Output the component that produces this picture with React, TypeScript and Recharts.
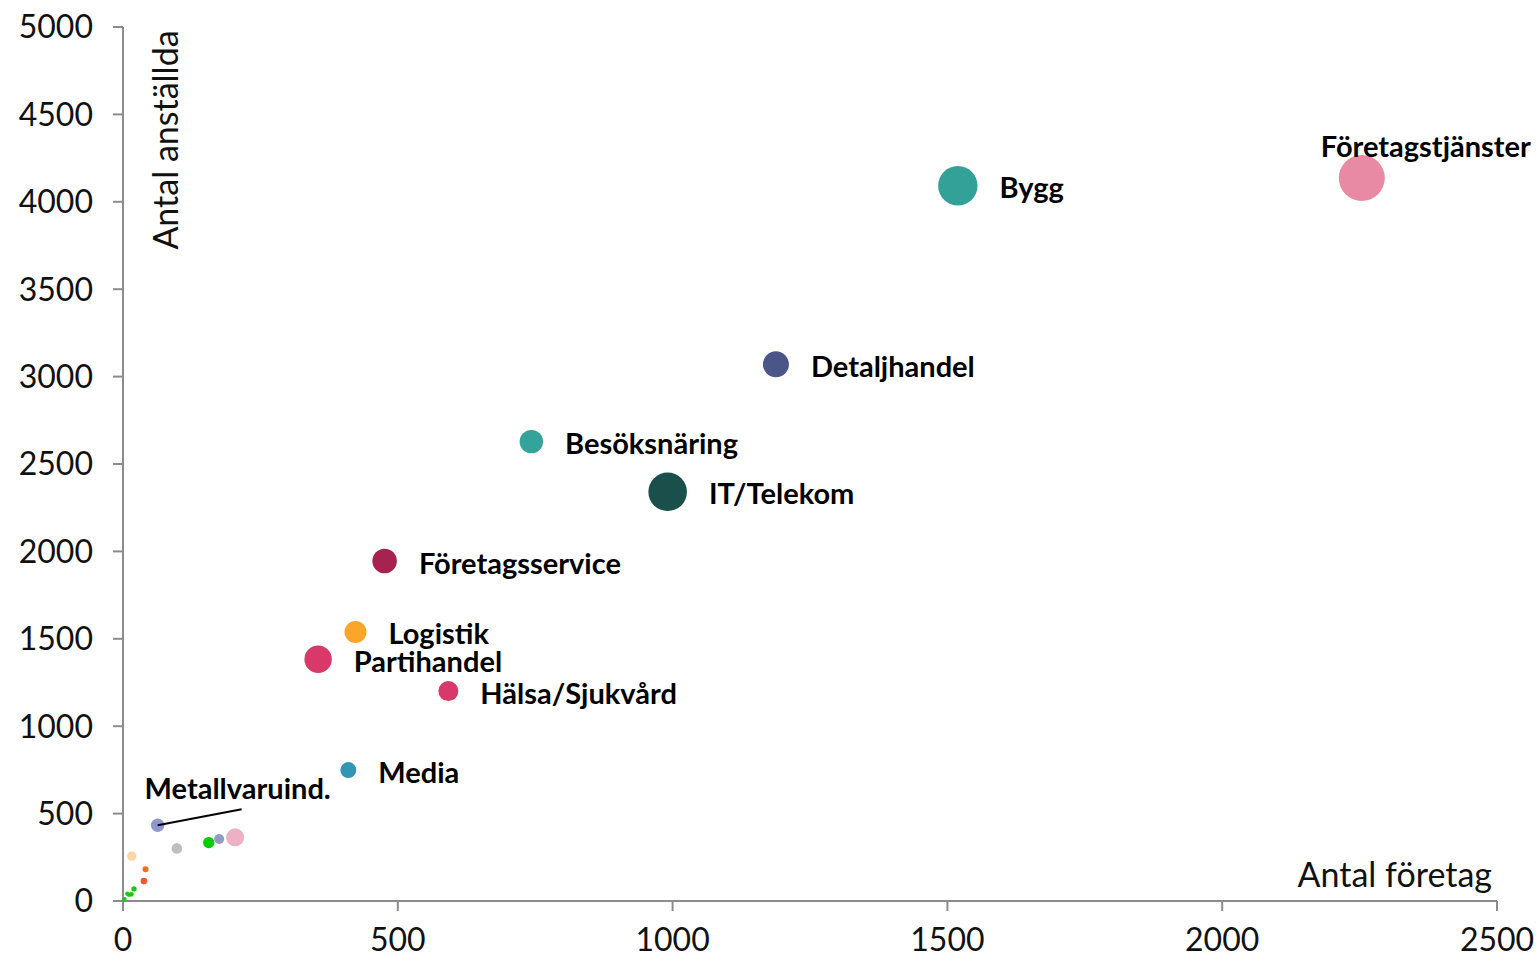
import { ScatterChart, Scatter, XAxis, YAxis, ZAxis, Label } from 'recharts';

// Branscher (tomma namn = små bubblor utan etikett)
const branscher = [
  'Företagstjänster', 'Bygg', 'Detaljhandel', 'Besöksnäring', 'IT/Telekom',
  'Företagsservice', 'Logistik', 'Partihandel', 'Hälsa/Sjukvård', 'Media',
  'Metallvaruind.', '', '', '', '', '', '', '', '', '', '', '', '', '',
];
const antalForetag = [
  2254, 1519, 1188, 743, 991,
  476, 423, 355, 592, 410,
  63, 98, 156, 175, 204, 16, 41, 38, 20, 15, 8, 3, 1, 11,
];
const antalAnstallda = [
  4136, 4092, 3070, 2628, 2341,
  1945, 1539, 1383, 1201, 749,
  433, 301, 334, 355, 364, 257, 181, 114, 69, 38, 42, 12, 3, 33,
];
const storlek = [
  529, 388, 169, 137, 372,
  151, 121, 188, 100, 64,
  45, 28, 32, 25, 81, 22, 9, 11, 7, 6, 5, 4, 3, 3,
];
const farger = [
  '#E88AA3', '#33A197', '#4A5588', '#35A39A', '#1B4F4B',
  '#A6234F', '#FBA529', '#D9386A', '#D9386A', '#3195B3',
  '#8E98CC', '#BFBFBF', '#00CC00', '#939BC4', '#EEB0C4', '#FDD5A6', '#EB7021', '#F4582D',
  '#19C819', '#19C819', '#19C819', '#19C819', '#19C819', '#19C819',
];

const xTicks = [0, 500, 1000, 1500, 2000, 2500];
const yTicks = [0, 500, 1000, 1500, 2000, 2500, 3000, 3500, 4000, 4500, 5000];

const data = branscher.map((namn, i) => ({
  namn,
  x: antalForetag[i],
  y: antalAnstallda[i],
  z: storlek[i],
  farg: farger[i],
}));

const FONT = 'Lato, "Open Sans", sans-serif';

const labelStyle = {
  fontFamily: FONT,
  fontWeight: 700,
  fontSize: 29,
  fill: '#000',
};

const Bubbla = (props: any) => {
  const { cx, cy, width, payload } = props;
  const r = width / 2;
  let etikett = null;
  if (payload.namn === 'Företagstjänster') {
    etikett = (
      <text x={cx - 41} y={cy - 33} dominantBaseline="central" style={labelStyle}>
        {payload.namn}
      </text>
    );
  } else if (payload.namn === 'Metallvaruind.') {
    etikett = (
      <g>
        <line x1={cx} y1={cy} x2={cx + 84} y2={cy - 16} stroke="#000" strokeWidth={2} />
        <text x={cx - 13} y={cy - 38} dominantBaseline="central" style={labelStyle}>
          {payload.namn}
        </text>
      </g>
    );
  } else if (payload.namn) {
    etikett = (
      <text x={cx + r + 22} y={cy + 1} dominantBaseline="central" style={labelStyle}>
        {payload.namn}
      </text>
    );
  }
  return (
    <g>
      <circle cx={cx} cy={cy} r={r} fill={payload.farg} />
      {etikett}
    </g>
  );
};

const tickStyle = { fill: '#111', fontSize: 32, fontFamily: FONT };

export default function App() {
  return (
    <div style={{ position: 'absolute', left: 0, top: 0, width: 1540, height: 961, background: '#fff' }}>
      <ScatterChart width={1540} height={961} margin={{ top: 27, right: 43, bottom: 0, left: 0 }}>
        <XAxis
          type="number"
          dataKey="x"
          domain={[0, 2500]}
          ticks={xTicks}
          height={60}
          tickSize={10}
          tickMargin={17}
          stroke="#8C8C8C"
          strokeWidth={2}
          tick={tickStyle}
          interval={0}
        >
          <Label
            content={() => (
              <text x={1492} y={887} textAnchor="end" style={{ fontFamily: FONT, fontSize: 34, fill: '#111' }}>
                Antal företag
              </text>
            )}
          />
        </XAxis>
        <YAxis
          type="number"
          dataKey="y"
          domain={[0, 5000]}
          ticks={yTicks}
          width={123}
          tickSize={10}
          tickMargin={20}
          stroke="#8C8C8C"
          strokeWidth={2}
          tick={tickStyle}
          interval={0}
        >
          <Label
            content={() => (
              <text
                x={164}
                y={140}
                transform="rotate(-90 164 140)"
                textAnchor="middle"
                dominantBaseline="central"
                style={{ fontFamily: FONT, fontSize: 34, fill: '#111' }}
              >
                Antal anställda
              </text>
            )}
          />
        </YAxis>
        <ZAxis type="number" dataKey="z" domain={[0, 600]} range={[0, 600 * Math.PI]} />
        <Scatter data={data} shape={Bubbla} isAnimationActive={false} />
      </ScatterChart>
    </div>
  );
}
